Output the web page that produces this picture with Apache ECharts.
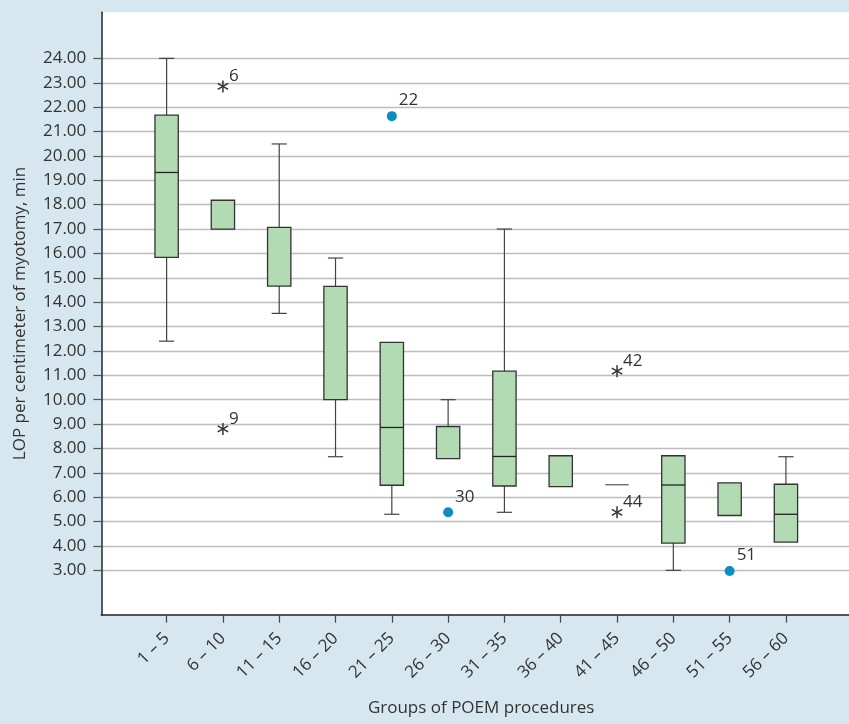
<!DOCTYPE html>
<html>
<head>
<meta charset="utf-8">
<script src="https://cdn.jsdelivr.net/npm/echarts@6/dist/echarts.min.js"></script>
<style>
html,body{margin:0;padding:0;background:#d6e7f0;}
#chart{width:849px;height:724px;}
</style>
</head>
<body>
<div id="chart"></div>
<script>
const categories = ['1 – 5','6 – 10','11 – 15','16 – 20','21 – 25','26 – 30','31 – 35','36 – 40','41 – 45','46 – 50','51 – 55','56 – 60'];
const whiskerLow  = [12.4, null, 13.54, 7.66, 5.3, null, 5.38, null, null, 3.0, null, null];
const q1          = [15.84, 17.0, 14.66, 10.0, 6.49, 7.58, 6.46, 6.43, 6.51, 4.12, 5.25, 4.16];
const median      = [19.32, null, null, null, 8.86, null, 7.67, null, null, 6.5, null, 5.3];
const q3          = [21.67, 18.18, 17.07, 14.65, 12.35, 8.9, 11.17, 7.7, 6.51, 7.7, 6.59, 6.53];
const whiskerHigh = [24.0, null, 20.49, 15.81, null, 10.0, 17.0, null, null, null, null, 7.66];

const starGroups = ['6 – 10', '6 – 10', '41 – 45', '41 – 45'];
const starValues = [22.85, 8.8, 11.17, 5.38];
const starLabels = ['6', '9', '42', '44'];

const dotGroups = ['21 – 25', '26 – 30', '51 – 55'];
const dotValues = [21.63, 5.38, 2.97];
const dotLabels = ['22', '30', '51'];

const yTicks = [3,4,5,6,7,8,9,10,11,12,13,14,15,16,17,18,19,20,21,22,23,24];
const xTicks = categories.map((c, i) => i + 1);

const FONT = 'Open Sans';
const TEXT = '#333';

const chart = echarts.init(document.getElementById('chart'));

function line(x1, y1, x2, y2, color, w) {
  return { type: 'line', shape: { x1, y1, x2, y2 }, style: { stroke: color || '#444', lineWidth: w || 1.2 } };
}

function renderBox(params, api) {
  const i = params.dataIndex;
  const x = api.value(0);
  const unit = api.size([1, 0])[0];
  const bw = unit * 0.414, cw = unit * 0.27;
  const top = api.coord([x, q3[i]]);
  const bot = api.coord([x, q1[i]]);
  const cx = top[0];
  const children = [];
  if (whiskerHigh[i] != null) {
    const p = api.coord([x, whiskerHigh[i]]);
    children.push(line(cx, p[1], cx, top[1]));
    children.push(line(cx - cw / 2, p[1], cx + cw / 2, p[1]));
  }
  if (whiskerLow[i] != null) {
    const p = api.coord([x, whiskerLow[i]]);
    children.push(line(cx, bot[1], cx, p[1]));
    children.push(line(cx - cw / 2, p[1], cx + cw / 2, p[1]));
  }
  if (q3[i] === q1[i]) {
    children.push(line(cx - bw / 2, top[1], cx + bw / 2, top[1], '#555', 1.2));
  } else {
    children.push({
      type: 'rect',
      shape: { x: cx - bw / 2, y: top[1], width: bw, height: bot[1] - top[1] },
      style: { fill: '#b2dbb3', stroke: '#333', lineWidth: 1.3 }
    });
  }
  if (median[i] != null) {
    const m = api.coord([x, median[i]]);
    children.push(line(cx - bw / 2, m[1], cx + bw / 2, m[1], '#222', 1.3));
  }
  return { type: 'group', children };
}

function renderStar(params, api) {
  const i = params.dataIndex;
  const p = api.coord([api.value(0), api.value(1)]);
  const r = 6;
  const c = Math.cos(Math.PI / 6) * r, s = Math.sin(Math.PI / 6) * r;
  return {
    type: 'group',
    children: [
      line(p[0], p[1] - r, p[0], p[1] + r, '#333', 1.5),
      line(p[0] - c, p[1] - s, p[0] + c, p[1] + s, '#333', 1.5),
      line(p[0] - c, p[1] + s, p[0] + c, p[1] - s, '#333', 1.5),
      { type: 'text', x: p[0] + 6, y: p[1] - 10,
        style: { text: starLabels[i], fill: TEXT, font: '17px "' + FONT + '"', align: 'left', verticalAlign: 'middle' } }
    ]
  };
}

const option = {
  backgroundColor: '#d6e7f0',
  animation: false,
  grid: { left: 101.3, right: 0, top: 12.3, bottom: 109.3, show: true, backgroundColor: '#ffffff', borderWidth: 0 },
  xAxis: {
    type: 'value',
    min: -0.16, max: 13.12,
    name: 'Groups of POEM procedures',
    nameLocation: 'middle',
    nameGap: 85,
    nameTextStyle: { fontFamily: FONT, fontSize: 17, color: TEXT, padding: [0, 0, 0, 12] },
    axisLine: { onZero: false, lineStyle: { color: '#222', width: 1.5 } },
    axisTick: { show: true, length: 8, customValues: xTicks, lineStyle: { color: '#444', width: 1.2 } },
    axisLabel: {
      customValues: xTicks,
      rotate: 45,
      margin: 21,
      fontFamily: FONT, fontSize: 17, color: TEXT,
      formatter: v => categories[Math.round(v) - 1] || ''
    },
    splitLine: { show: false }
  },
  yAxis: {
    type: 'value',
    min: 1.18, max: 25.89,
    name: 'LOP per centimeter of myotomy, min',
    nameLocation: 'middle',
    nameGap: 73,
    nameTextStyle: { fontFamily: FONT, fontSize: 17, color: TEXT },
    axisLine: { show: true, onZero: false, lineStyle: { color: '#222', width: 1.5 } },
    axisTick: { show: true, length: 8, customValues: yTicks, lineStyle: { color: '#555', width: 1.2 } },
    axisLabel: {
      customValues: yTicks,
      margin: 15,
      fontFamily: FONT, fontSize: 17, color: TEXT,
      formatter: v => v.toFixed(2)
    },
    splitLine: { show: true, lineStyle: { color: '#bdbdbd', width: 1.3 } }
  },
  series: [
    {
      type: 'custom',
      name: 'boxes',
      renderItem: renderBox,
      encode: { x: 0, y: [1, 2] },
      data: categories.map((c, i) => [i + 1, q1[i], q3[i]]),
      silent: true,
      z: 3
    },
    {
      type: 'custom',
      name: 'extremes',
      renderItem: renderStar,
      encode: { x: 0, y: 1 },
      data: starGroups.map((g, i) => [categories.indexOf(g) + 1, starValues[i]]),
      silent: true,
      z: 4
    },
    {
      type: 'scatter',
      name: 'outliers',
      symbolSize: 10,
      itemStyle: { color: '#0a8dc3', opacity: 1 },
      label: {
        show: true,
        position: [12, -19],
        fontFamily: FONT, fontSize: 17, color: TEXT,
        formatter: p => dotLabels[p.dataIndex]
      },
      data: dotGroups.map((g, i) => [categories.indexOf(g) + 1, dotValues[i]]),
      silent: true,
      z: 5
    }
  ]
};
chart.setOption(option);
</script>
</body>
</html>
